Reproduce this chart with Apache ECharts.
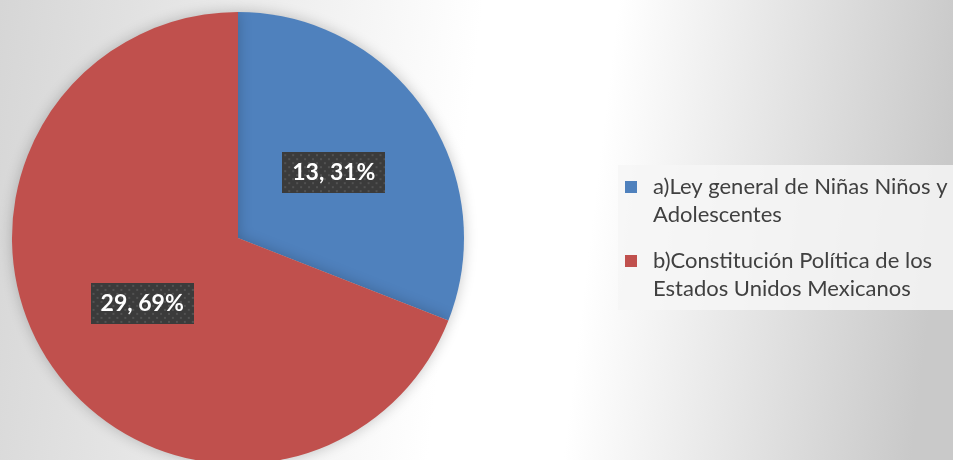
<!DOCTYPE html>
<html>
<head>
<meta charset="utf-8">
<script src="https://cdn.jsdelivr.net/npm/echarts@6/dist/echarts.min.js"></script>
<style>
  html, body { margin: 0; padding: 0; }
  #chart { width: 953px; height: 460px; }
</style>
</head>
<body>
<div id="chart"></div>
<script>
// datos
var categorias = ['a)Ley general de Niñas Niños y Adolescentes', 'b)Constitución Política de los Estados Unidos Mexicanos'];
var valores = [13, 29];
var colores = ['#4f81bd', '#c0504d'];

// fondo punteado de las etiquetas
function patron(w, h) {
  var c = document.createElement('canvas');
  c.width = w; c.height = h;
  var ctx = c.getContext('2d');
  ctx.fillStyle = '#3b3b3b';
  ctx.fillRect(0, 0, w, h);
  ctx.fillStyle = '#525252';
  for (var y = 2; y < h; y += 8) {
    for (var x = 2; x < w; x += 8) {
      ctx.fillRect(x, y, 2, 2);
      ctx.fillRect(x + 4, y + 4, 2, 2);
    }
  }
  return c;
}

var chart = echarts.init(document.getElementById('chart'));

var option = {
  backgroundColor: new echarts.graphic.LinearGradient(0, 0, 1, 0.25, [
    { offset: 0, color: '#d6d6d6' },
    { offset: 0.5, color: '#ffffff' },
    { offset: 0.64, color: '#ffffff' },
    { offset: 1, color: '#c9c9c9' }
  ]),
  animation: false,
  legend: {
    orient: 'vertical',
    left: 618,
    top: 165,
    padding: [8, 0, 7, 7],
    backgroundColor: 'rgba(246,246,246,0.85)',
    itemWidth: 23,
    itemHeight: 56,
    itemGap: 18,
    // cuadrado arriba, alineado con la primera línea del texto
    icon: 'path://M0,0L0,0M0,8h12v12h-12zM23,56L23,56',
    selectedMode: false,
    textStyle: {
      fontFamily: 'Lato',
      fontSize: 22,
      color: '#404040',
      lineHeight: 28,
      width: 332,
      overflow: 'break'
    },
    data: categorias
  },
  series: [{
    type: 'pie',
    center: [238, 238],
    radius: 226,
    startAngle: 90,
    clockwise: true,
    percentPrecision: 0,
    silent: true,
    itemStyle: {
      borderWidth: 0,
      shadowBlur: 14,
      shadowColor: 'rgba(0,0,0,0.22)'
    },
    label: {
      show: true,
      position: 'inside',
      formatter: '{c}, {d}%',
      fontFamily: 'Lato',
      fontWeight: 'bold',
      fontSize: 23,
      lineHeight: 27,
      color: '#ffffff',
      padding: [7, 10, 7, 10],
      backgroundColor: { image: patron(104, 41) },
      shadowColor: 'rgba(0,0,0,0.55)',
      shadowBlur: 7,
      shadowOffsetX: 4,
      shadowOffsetY: 4
    },
    labelLine: { show: false },
    data: categorias.map(function (n, i) {
      return { name: n, value: valores[i], itemStyle: { color: colores[i] } };
    })
  }]
};

chart.setOption(option);
</script>
</body>
</html>
